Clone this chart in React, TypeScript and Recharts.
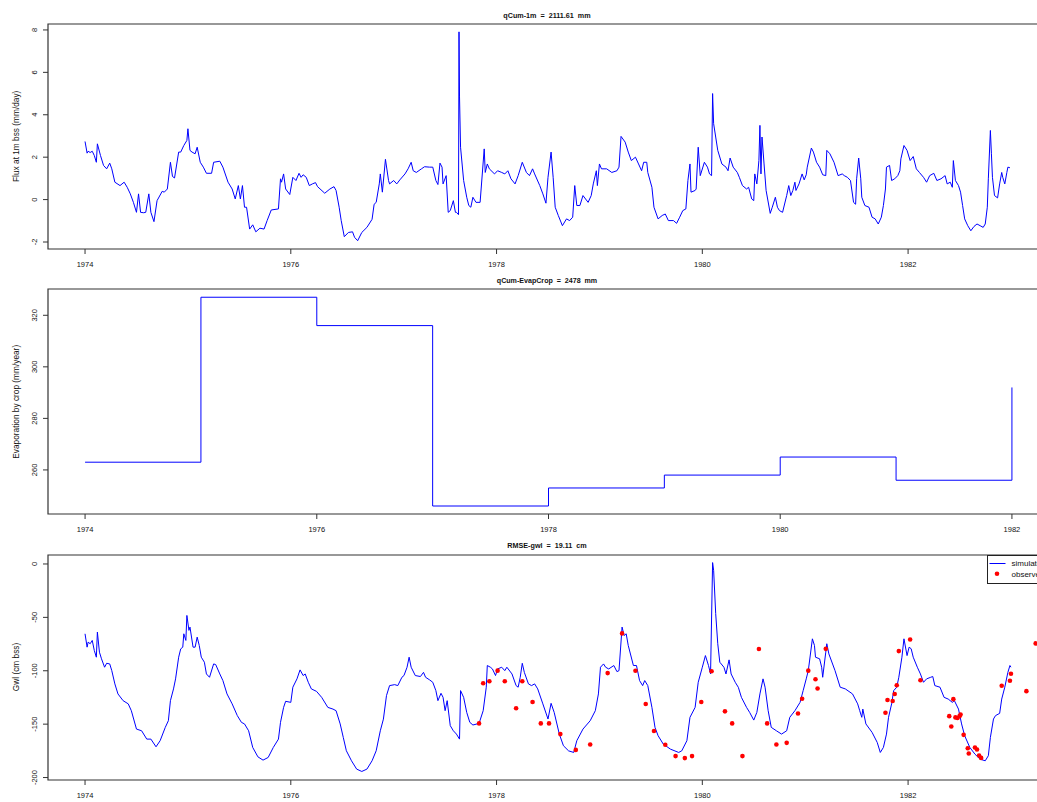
import React from 'react';
import { LineChart, ComposedChart, Line, Scatter, XAxis, YAxis, ReferenceArea, Legend } from 'recharts';

const FONT = '"Liberation Sans", Arial, Helvetica, sans-serif';

// x tick labels (years)
const yearTicks = [1974, 1976, 1978, 1980, 1982];

// Flux at 1 m bss (mm/day): [decimal year, value]
const flux1m: [number, number][] = [
  [1974.0, 2.74], [1974.02, 2.19], [1974.03, 2.28], [1974.05, 2.22], [1974.07, 2.28], [1974.09, 2.08],
  [1974.11, 1.76], [1974.12, 2.63], [1974.15, 2.08], [1974.18, 1.61], [1974.21, 1.45], [1974.24, 1.72],
  [1974.26, 1.45], [1974.29, 0.82], [1974.34, 0.66], [1974.38, 0.82], [1974.41, 0.58], [1974.44, 0.27],
  [1974.47, -0.13], [1974.5, -0.6], [1974.52, 0.27], [1974.54, -0.6], [1974.57, -0.62], [1974.59, -0.6],
  [1974.62, 0.27], [1974.64, -0.6], [1974.67, -1.04], [1974.7, -0.05], [1974.75, 0.39], [1974.77, 0.35],
  [1974.8, 0.5], [1974.83, 1.76], [1974.85, 1.09], [1974.87, 1.02], [1974.91, 2.24], [1974.93, 2.24],
  [1974.96, 2.55], [1974.99, 2.79], [1975.0, 3.34], [1975.02, 2.32], [1975.04, 2.24], [1975.07, 2.16],
  [1975.09, 2.47], [1975.12, 1.76], [1975.15, 1.53], [1975.18, 1.24], [1975.23, 1.24], [1975.25, 1.76],
  [1975.31, 1.81], [1975.34, 1.53], [1975.39, 0.82], [1975.43, 0.5], [1975.46, 0.03], [1975.49, 0.66],
  [1975.51, 0.03], [1975.53, 0.66], [1975.55, -0.36], [1975.57, -0.36], [1975.6, -1.39], [1975.63, -1.19],
  [1975.66, -1.52], [1975.7, -1.35], [1975.74, -1.39], [1975.77, -0.99], [1975.81, -0.49], [1975.88, -0.44],
  [1975.9, 0.98], [1975.91, 0.82], [1975.93, 1.21], [1975.95, 0.5], [1975.99, 0.24], [1976.02, 1.05],
  [1976.05, 0.9], [1976.08, 1.24], [1976.1, 1.05], [1976.12, 1.17], [1976.15, 1.05], [1976.18, 0.66],
  [1976.21, 0.74], [1976.24, 0.8], [1976.26, 0.61], [1976.33, 0.3], [1976.38, 0.5], [1976.42, 0.61],
  [1976.44, 0.43], [1976.47, -0.36], [1976.49, -0.99], [1976.52, -1.75], [1976.56, -1.55], [1976.6, -1.52],
  [1976.62, -1.78], [1976.65, -1.94], [1976.69, -1.55], [1976.74, -1.31], [1976.79, -0.93], [1976.81, -0.22],
  [1976.83, -0.13], [1976.86, 0.74], [1976.87, 1.21], [1976.89, 0.35], [1976.92, 1.9], [1976.95, 0.9],
  [1976.96, 0.74], [1977.0, 0.9], [1977.03, 0.74], [1977.06, 0.93], [1977.11, 1.21], [1977.14, 1.45],
  [1977.17, 1.76], [1977.19, 1.36], [1977.22, 1.28], [1977.27, 1.45], [1977.3, 1.55], [1977.35, 1.53],
  [1977.38, 1.53], [1977.41, 0.9], [1977.43, 0.71], [1977.45, 1.72], [1977.47, 1.53], [1977.48, 0.74],
  [1977.51, 1.13], [1977.53, -0.6], [1977.55, -0.52], [1977.58, -0.05], [1977.6, -0.6], [1977.61, -0.6],
  [1977.63, -0.71], [1977.635, 7.91], [1977.64, 4.84], [1977.65, 2.47], [1977.68, 0.9], [1977.71, 0.11],
  [1977.73, -0.28], [1977.75, -0.36], [1977.77, 0.11], [1977.8, -0.13], [1977.84, -0.13], [1977.85, 0.5],
  [1977.88, 2.39], [1977.89, 1.28], [1977.91, 1.68], [1977.93, 1.45], [1977.98, 1.21], [1978.01, 1.36],
  [1978.05, 1.28], [1978.08, 1.21], [1978.11, 1.36], [1978.14, 0.98], [1978.18, 0.74], [1978.21, 1.13],
  [1978.25, 1.76], [1978.29, 1.28], [1978.32, 1.13], [1978.35, 1.45], [1978.37, 1.21], [1978.42, 0.66],
  [1978.45, 0.27], [1978.48, -0.17], [1978.5, 1.05], [1978.53, 2.24], [1978.55, 1.05], [1978.57, -0.36],
  [1978.6, -0.75], [1978.64, -1.23], [1978.68, -0.91], [1978.71, -0.99], [1978.74, -0.83], [1978.76, 0.66],
  [1978.78, -0.28], [1978.81, -0.28], [1978.84, 0.19], [1978.89, -0.13], [1978.92, 0.19], [1978.94, 0.74],
  [1978.97, 1.36], [1978.98, 0.66], [1979.0, 1.68], [1979.02, 1.45], [1979.07, 1.45], [1979.12, 1.28],
  [1979.17, 1.36], [1979.19, 1.53], [1979.21, 2.98], [1979.25, 2.71], [1979.28, 2.24], [1979.31, 1.84],
  [1979.35, 2.0], [1979.38, 1.68], [1979.41, 1.36], [1979.43, 1.76], [1979.46, 1.76], [1979.47, 1.28],
  [1979.51, 0.58], [1979.53, -0.36], [1979.57, -0.91], [1979.61, -0.75], [1979.64, -0.68], [1979.67, -0.99],
  [1979.72, -0.99], [1979.75, -1.12], [1979.78, -0.83], [1979.81, -0.52], [1979.84, -0.44], [1979.86, 0.9],
  [1979.88, 1.68], [1979.89, 0.35], [1979.93, 0.43], [1979.94, 0.5], [1979.96, 2.47], [1979.98, 1.13],
  [1980.02, 1.76], [1980.05, 1.53], [1980.07, 1.21], [1980.09, 1.13], [1980.1, 5.0], [1980.11, 3.58],
  [1980.13, 2.95], [1980.15, 2.32], [1980.19, 1.68], [1980.23, 1.53], [1980.25, 1.36], [1980.27, 1.96],
  [1980.3, 1.53], [1980.34, 1.28], [1980.36, 1.05], [1980.39, 0.66], [1980.43, 0.5], [1980.45, 0.58],
  [1980.48, 0.03], [1980.5, -0.05], [1980.51, 1.21], [1980.53, 0.74], [1980.55, 1.84], [1980.56, 3.5],
  [1980.57, 1.21], [1980.58, 2.95], [1980.6, 1.68], [1980.62, 0.43], [1980.66, -0.65], [1980.68, -0.36],
  [1980.71, 0.11], [1980.73, -0.36], [1980.75, -0.52], [1980.78, -0.6], [1980.82, 0.19], [1980.84, 0.66],
  [1980.86, 0.19], [1980.88, 0.43], [1980.9, 0.82], [1980.91, 0.43], [1980.94, 0.74], [1980.97, 1.21],
  [1980.99, 0.93], [1981.01, 1.17], [1981.02, 1.53], [1981.06, 2.43], [1981.08, 2.24], [1981.11, 1.76],
  [1981.14, 1.53], [1981.17, 1.17], [1981.2, 1.13], [1981.21, 2.32], [1981.24, 2.16], [1981.28, 1.76],
  [1981.32, 1.13], [1981.36, 1.21], [1981.38, 1.13], [1981.41, 1.05], [1981.44, 0.9], [1981.47, -0.13],
  [1981.49, -0.22], [1981.5, 0.98], [1981.52, 1.96], [1981.54, 0.98], [1981.55, 0.11], [1981.58, -0.28],
  [1981.62, -0.36], [1981.65, -0.83], [1981.68, -0.91], [1981.71, -1.15], [1981.74, -0.83], [1981.76, -0.28],
  [1981.78, 0.5], [1981.79, 1.53], [1981.82, 1.61], [1981.84, 0.9], [1981.87, 0.98], [1981.9, 1.13],
  [1981.92, 1.36], [1981.93, 1.92], [1981.96, 2.55], [1981.99, 2.32], [1982.02, 1.84], [1982.05, 2.03],
  [1982.08, 1.45], [1982.11, 1.28], [1982.15, 1.05], [1982.18, 0.82], [1982.21, 1.13], [1982.25, 1.24],
  [1982.28, 0.9], [1982.32, 0.98], [1982.36, 1.13], [1982.38, 0.74], [1982.41, 0.82], [1982.43, 0.58],
  [1982.44, 1.84], [1982.46, 0.9], [1982.49, 0.66], [1982.51, 0.35], [1982.53, -0.28], [1982.55, -0.91],
  [1982.58, -1.23], [1982.61, -1.47], [1982.64, -1.27], [1982.67, -1.15], [1982.7, -1.23], [1982.73, -1.31],
  [1982.75, -1.15], [1982.77, -0.36], [1982.78, 0.98], [1982.8, 3.26], [1982.81, 2.16], [1982.82, 1.05],
  [1982.84, 0.19], [1982.87, 0.08], [1982.89, 0.74], [1982.91, 1.28], [1982.92, 1.05], [1982.94, 0.74],
  [1982.96, 1.28], [1982.97, 1.53], [1982.99, 1.5],
];

// Evaporation by crop (mm/year), one value per year (step plot)
const evapYears = [1974, 1975, 1976, 1977, 1978, 1979, 1980, 1981, 1982];
const evapValues = [263, 327, 316, 246, 253, 258, 265, 256, 292];

// Groundwater level, simulated (cm bss)
const gwlSimulated: [number, number][] = [
  [1974.0, -65.4], [1974.02, -77.9], [1974.03, -73.2], [1974.05, -74.7], [1974.07, -71.6], [1974.09, -81],
  [1974.11, -87.3], [1974.12, -63.8], [1974.14, -82.6], [1974.16, -88.8], [1974.19, -96.7], [1974.21, -93],
  [1974.24, -93.6], [1974.26, -99.9], [1974.29, -112.3], [1974.32, -121.7], [1974.37, -128], [1974.42, -131],
  [1974.45, -137.4], [1974.5, -154.6], [1974.55, -156.2], [1974.6, -164], [1974.64, -164], [1974.69, -171.2],
  [1974.73, -165.5], [1974.78, -153], [1974.81, -146.8], [1974.83, -128], [1974.86, -117], [1974.88, -107.6],
  [1974.91, -87.3], [1974.93, -79.5], [1974.95, -77.9], [1974.96, -65.4], [1974.98, -71.6], [1974.99, -48.2],
  [1975.01, -62.2], [1975.02, -59.1], [1975.05, -77.9], [1975.07, -77.9], [1975.09, -68.5], [1975.11, -76.3],
  [1975.13, -87.3], [1975.16, -92], [1975.18, -103], [1975.21, -106.1], [1975.25, -93.6], [1975.27, -94.2],
  [1975.31, -103], [1975.34, -109.2], [1975.38, -121.7], [1975.43, -131], [1975.48, -142], [1975.52, -148.3],
  [1975.55, -149.8], [1975.59, -156.2], [1975.63, -171.8], [1975.68, -180.6], [1975.73, -183.7], [1975.78, -181.2],
  [1975.83, -171.8], [1975.88, -164], [1975.9, -148.3], [1975.93, -134.3], [1975.95, -128.6], [1976.0, -129.6],
  [1976.02, -115.4], [1976.06, -107.6], [1976.09, -99.2], [1976.12, -104.5], [1976.14, -103], [1976.17, -110.8],
  [1976.2, -117], [1976.25, -119.3], [1976.3, -124.9], [1976.36, -134.3], [1976.41, -135.9], [1976.44, -137.4],
  [1976.48, -149.8], [1976.51, -162.4], [1976.54, -174.9], [1976.59, -184.3], [1976.64, -192.1], [1976.69, -194.3],
  [1976.74, -192.1], [1976.79, -184.3], [1976.83, -174.9], [1976.87, -156.2], [1976.9, -145.3], [1976.93, -123.3],
  [1976.96, -113.9], [1977.01, -113], [1977.04, -113.9], [1977.08, -106.1], [1977.1, -104.5], [1977.13, -96.7],
  [1977.15, -87.3], [1977.17, -96.7], [1977.21, -104.5], [1977.26, -105.4], [1977.29, -101.5], [1977.31, -106.1],
  [1977.35, -108.6], [1977.38, -110.8], [1977.41, -118.6], [1977.43, -128], [1977.46, -121.1], [1977.48, -124.9],
  [1977.5, -137.4], [1977.52, -128], [1977.55, -151.4], [1977.58, -156.2], [1977.61, -159.3], [1977.64, -164],
  [1977.65, -118.6], [1977.68, -124.9], [1977.71, -139], [1977.74, -148.3], [1977.77, -150.8], [1977.83, -149.3],
  [1977.87, -137.4], [1977.9, -115.4], [1977.91, -95.1], [1977.94, -96.7], [1977.96, -98.3], [1977.99, -104.5],
  [1978.01, -98.3], [1978.05, -96.7], [1978.08, -99.9], [1978.1, -96.7], [1978.15, -103], [1978.19, -113.9],
  [1978.21, -115.4], [1978.23, -106.1], [1978.25, -93], [1978.27, -101.5], [1978.31, -112.3], [1978.34, -113.9],
  [1978.37, -112.3], [1978.4, -117], [1978.45, -131], [1978.5, -145.2], [1978.53, -130.5], [1978.56, -139],
  [1978.61, -159.3], [1978.65, -170.2], [1978.7, -175], [1978.75, -176.5], [1978.78, -165.5], [1978.84, -154.6],
  [1978.91, -146.8], [1978.96, -137.4], [1978.99, -121.7], [1979.01, -96.7], [1979.04, -93.6], [1979.06, -96.7],
  [1979.09, -98.3], [1979.14, -95.1], [1979.17, -100.8], [1979.19, -99.9], [1979.22, -59.1], [1979.24, -67],
  [1979.26, -65.4], [1979.28, -76.3], [1979.33, -95.1], [1979.36, -95.1], [1979.39, -109.2], [1979.42, -113.9],
  [1979.44, -109.2], [1979.47, -113.9], [1979.51, -134.3], [1979.54, -153], [1979.57, -160.8], [1979.62, -168.6],
  [1979.69, -173.4], [1979.77, -176.5], [1979.8, -175], [1979.85, -165.5], [1979.88, -143.6], [1979.93, -134.3],
  [1979.96, -110.8], [1980.0, -96.7], [1980.03, -85.8], [1980.06, -95.1], [1980.08, -102.9], [1980.1, 1.3],
  [1980.11, -5.9], [1980.13, -46.5], [1980.15, -74.7], [1980.17, -92], [1980.21, -96.7], [1980.23, -103],
  [1980.26, -89.8], [1980.28, -103], [1980.32, -110.8], [1980.35, -115.5], [1980.38, -124.9], [1980.43, -134.3],
  [1980.46, -139], [1980.5, -146.2], [1980.53, -139], [1980.56, -121.7], [1980.59, -107.6], [1980.61, -115.4],
  [1980.64, -137.4], [1980.67, -153], [1980.72, -156.2], [1980.77, -159.3], [1980.82, -156.2], [1980.85, -143.6],
  [1980.9, -137.4], [1980.95, -129.6], [1980.98, -118.6], [1981.01, -107.6], [1981.03, -99.9], [1981.07, -70.1],
  [1981.09, -76.3], [1981.1, -87.3], [1981.14, -88.8], [1981.16, -96.7], [1981.17, -106.1], [1981.2, -82.6],
  [1981.21, -74.7], [1981.23, -84.2], [1981.29, -99.9], [1981.34, -115.4], [1981.39, -117], [1981.46, -121.7],
  [1981.51, -131], [1981.53, -137.4], [1981.55, -143.6], [1981.56, -135.9], [1981.59, -149.8], [1981.65, -157.7],
  [1981.7, -167.1], [1981.73, -176.5], [1981.76, -171.8], [1981.79, -159.3], [1981.81, -143.6], [1981.84, -131],
  [1981.86, -118.6], [1981.89, -115.4], [1981.91, -106.1], [1981.94, -87.3], [1981.96, -70.1], [1981.99, -85.8],
  [1982.01, -77.9], [1982.03, -79.4], [1982.05, -87.3], [1982.09, -96.7], [1982.12, -103], [1982.15, -110.8],
  [1982.18, -107.6], [1982.22, -106.1], [1982.24, -105.4], [1982.26, -113.9], [1982.31, -115.4], [1982.35, -124.9],
  [1982.39, -126.5], [1982.43, -129.6], [1982.45, -128], [1982.49, -135.9], [1982.52, -149.8], [1982.55, -160.8],
  [1982.6, -171.8], [1982.65, -178.1], [1982.7, -182.8], [1982.75, -184.3], [1982.78, -179.6], [1982.8, -162.4],
  [1982.83, -145.2], [1982.85, -142], [1982.89, -139.9], [1982.91, -126.5], [1982.94, -115.4], [1982.97, -101.5],
  [1982.99, -95.1], [1983.0, -96.7],
];

// Groundwater level, observed (cm bss)
const gwlObserved: [number, number][] = [
  [1977.83, -149.3], [1977.87, -111.7], [1977.93, -109.8], [1978.01, -99.9], [1978.08, -109.8], [1978.19, -135.1],
  [1978.25, -109.8], [1978.35, -129.2], [1978.43, -149.3], [1978.51, -149.3], [1978.62, -159.3], [1978.77, -174.1],
  [1978.91, -169.1], [1979.08, -102.2], [1979.22, -65], [1979.35, -100], [1979.45, -131.1], [1979.53, -156.4],
  [1979.64, -169.3], [1979.74, -179.9], [1979.83, -181.8], [1979.9, -179.9], [1979.99, -129.2], [1980.09, -100.4],
  [1980.22, -138], [1980.29, -149.3], [1980.39, -179.9], [1980.55, -79.6], [1980.63, -149.3], [1980.72, -169],
  [1980.82, -167.5], [1980.93, -140], [1980.97, -126.2], [1981.03, -99.9], [1981.1, -108], [1981.12, -116.6],
  [1981.2, -79.5], [1981.78, -139.3], [1981.8, -127.4], [1981.85, -128.3], [1981.87, -121.8], [1981.89, -113.6],
  [1981.91, -81.6], [1982.02, -70.7], [1982.12, -108.9], [1982.4, -142.5], [1982.42, -152.2], [1982.44, -126.6],
  [1982.46, -143.7], [1982.48, -144.3], [1982.5, -142.5], [1982.51, -141], [1982.54, -160], [1982.58, -172.5],
  [1982.59, -177.5], [1982.65, -171.9], [1982.67, -173.8], [1982.69, -179.4], [1982.71, -181.6], [1982.91, -114.1],
  [1982.99, -109.4], [1983.0, -102.8], [1983.15, -119.1], [1983.24, -74.4],
];

const fluxData = flux1m.map(([t, v]) => ({ t, v }));
const evapData = evapYears.map((t, i) => ({ t, v: evapValues[i] }));
const simData = gwlSimulated.map(([t, v]) => ({ t, v }));
const obsData = gwlObserved.map(([t, v]) => ({ t, v }));

const XTick = (props: any) => {
  const { x, y, payload } = props;
  return (
    <text x={x} y={y + 11} textAnchor="middle" fontSize={7.5} fontFamily={FONT} fill="#111">
      {payload.value}
    </text>
  );
};

const YTick = (props: any) => {
  const { x, y, payload } = props;
  const bx = x - 3.5;
  return (
    <text x={bx} y={y} transform={`rotate(-90 ${bx} ${y})`} textAnchor="middle" fontSize={7.5} fontFamily={FONT} fill="#111">
      {payload.value}
    </text>
  );
};

// legend box sits in the top-right corner, simulated line first
const GwlLegend = (props: any) => {
  const items = [...(props.payload || [])].sort((a: any, b: any) =>
    (a.type === 'line' ? 0 : 1) - (b.type === 'line' ? 0 : 1));
  return (
    <svg width={62} height={29} style={{ display: 'block', overflow: 'visible' }}>
      <rect x={0.5} y={0.5} width={70} height={28} fill="#fff" stroke="#222" strokeWidth={1} />
      {items.map((it: any, i: number) => {
        const cy = 8.5 + i * 10.3;
        return (
          <g key={it.value}>
            {it.type === 'line' ? (
              <line x1={2.5} x2={18.5} y1={cy} y2={cy} stroke="#0000ff" strokeWidth={1} />
            ) : (
              <circle cx={10} cy={cy} r={2.3} fill="#ff0000" />
            )}
            <text x={24.5} y={cy + 2.8} fontSize={8} fontFamily={FONT} fill="#111">
              {it.value}
            </text>
          </g>
        );
      })}
    </svg>
  );
};

const frame = { fill: 'none', stroke: '#333', strokeWidth: 1.2, fillOpacity: 0 };
const tickLine = { stroke: '#333', strokeWidth: 1 };
const pre = { whiteSpace: 'pre' as const };

const App: React.FC = () => {
  const dom1: [number, number] = [1973.64, 1983.36];
  const dom2: [number, number] = [1973.68, 1982.32];
  return (
    <div style={{ position: 'absolute', left: 0, top: 0, width: 1037, height: 802, overflow: 'hidden', background: '#fff' }}>
      <div style={{ position: 'absolute', left: 0, top: 0 }}>
        <LineChart width={1060} height={276} data={fluxData} margin={{ top: 24, right: 12, bottom: 0, left: 0 }}>
          <XAxis type="number" dataKey="t" domain={dom1} ticks={yearTicks} interval={0} allowDataOverflow
            height={27} tickSize={5} axisLine={false} tickLine={tickLine} tick={XTick} />
          <YAxis type="number" domain={[-2.33, 8.28]} ticks={[-2, 0, 2, 4, 6, 8]} interval={0} allowDataOverflow
            width={48} tickSize={5} axisLine={false} tickLine={tickLine} tick={YTick} />
          <Line type="linear" dataKey="v" stroke="#0000ff" strokeWidth={1} dot={false} isAnimationActive={false} />
          <ReferenceArea x1={dom1[0]} x2={dom1[1]} y1={-2.33} y2={8.28} {...frame} />
        </LineChart>
      </div>

      <div style={{ position: 'absolute', left: 0, top: 265.3 }}>
        <LineChart width={1060} height={276} data={evapData} margin={{ top: 24, right: 11, bottom: 0, left: 0 }}>
          <XAxis type="number" dataKey="t" domain={dom2} ticks={yearTicks} interval={0} allowDataOverflow
            height={27} tickSize={5} axisLine={false} tickLine={tickLine} tick={XTick} />
          <YAxis type="number" domain={[242.9, 330.2]} ticks={[260, 280, 300, 320]} interval={0} allowDataOverflow
            width={48} tickSize={5} axisLine={false} tickLine={tickLine} tick={YTick} />
          <Line type="stepAfter" dataKey="v" stroke="#0000ff" strokeWidth={1} dot={false} isAnimationActive={false} />
          <ReferenceArea x1={dom2[0]} x2={dom2[1]} y1={242.9} y2={330.2} {...frame} />
        </LineChart>
      </div>

      <div style={{ position: 'absolute', left: 0, top: 530.6 }}>
        <ComposedChart width={1060} height={276} margin={{ top: 24, right: 12, bottom: 0, left: 0 }}>
          <XAxis type="number" dataKey="t" domain={dom1} ticks={yearTicks} interval={0} allowDataOverflow
            height={27} tickSize={5} axisLine={false} tickLine={tickLine} tick={XTick} />
          <YAxis type="number" dataKey="v" domain={[-202.3, 8.4]} ticks={[-200, -150, -100, -50, 0]} interval={0} allowDataOverflow
            width={48} tickSize={5} axisLine={false} tickLine={tickLine} tick={YTick} />
          <Line data={simData} name="simulated" legendType="line" type="linear" dataKey="v" stroke="#0000ff"
            strokeWidth={1} dot={false} isAnimationActive={false} />
          <Scatter data={obsData} name="observed" legendType="circle" dataKey="v" fill="#ff0000" isAnimationActive={false}
            shape={(p: any) => <circle cx={p.cx} cy={p.cy} r={2.3} fill="#ff0000" />} />
          <ReferenceArea x1={dom1[0]} x2={dom1[1]} y1={-202.3} y2={8.4} {...frame} />
          <Legend layout="vertical" align="center" verticalAlign="middle" content={GwlLegend}
            wrapperStyle={{ position: 'absolute', left: 986.5, top: 24.5, width: 62, height: 29, margin: 0 }} />
        </ComposedChart>
      </div>

      <svg width={1037} height={802} style={{ position: 'absolute', left: 0, top: 0, pointerEvents: 'none' }}>
        <g fontFamily={FONT} fill="#111">
          <text x={547} y={17.6} textAnchor="middle" fontSize={7.2} fontWeight="bold" xmlSpace="preserve" style={pre}>qCum-1m  =  2111.61  mm</text>
          <text x={547} y={283} textAnchor="middle" fontSize={7.1} fontWeight="bold" xmlSpace="preserve" style={pre}>qCum-EvapCrop  =  2478  mm</text>
          <text x={547} y={548.3} textAnchor="middle" fontSize={7.2} fontWeight="bold" xmlSpace="preserve" style={pre}>RMSE-gwl  =  19.11  cm</text>
          <text x={18.6} y={136.3} transform="rotate(-90 18.6 136.3)" textAnchor="middle" fontSize={8.3}>Flux at 1m bss (mm/day)</text>
          <text x={18.6} y={401.8} transform="rotate(-90 18.6 401.8)" textAnchor="middle" fontSize={8.3}>Evaporation by crop (mm/year)</text>
          <text x={18.6} y={667} transform="rotate(-90 18.6 667)" textAnchor="middle" fontSize={8.3}>Gwl (cm bss)</text>
        </g>
      </svg>
    </div>
  );
};

export default App;
